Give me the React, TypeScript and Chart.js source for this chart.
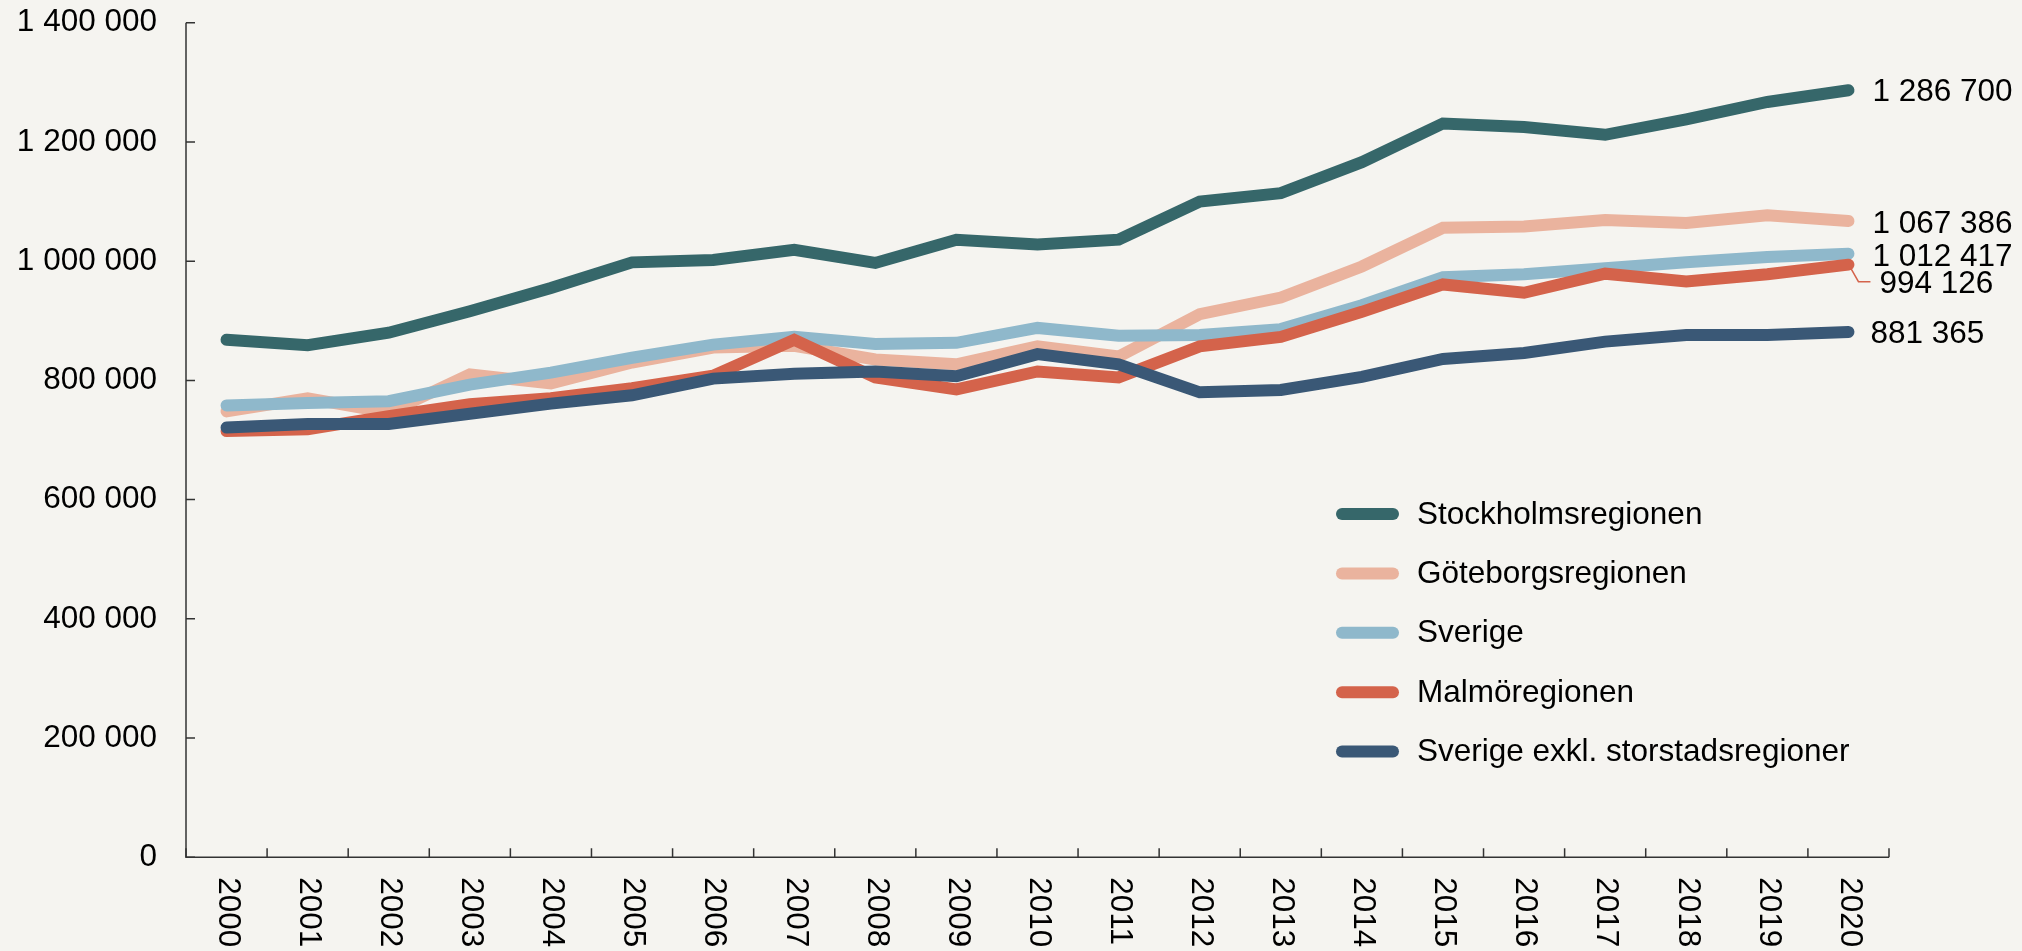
import { useEffect, useRef } from "react";
import { Chart, registerables } from "chart.js";

Chart.register(...registerables);

// ---- Data ----
const years = [
  "2000", "2001", "2002", "2003", "2004", "2005", "2006", "2007", "2008", "2009", "2010",
  "2011", "2012", "2013", "2014", "2015", "2016", "2017", "2018", "2019", "2020",
];

const stockholm = [
  868000, 859000, 880000, 916000, 955000, 998000, 1002000, 1019000, 997000, 1036000, 1028000,
  1036000, 1100000, 1114000, 1166000, 1231000, 1225000, 1212000, 1238000, 1267000, 1286700,
];
const goteborg = [
  748000, 770000, 746000, 810000, 795000, 830000, 855000, 858000, 835000, 827000, 857000,
  840000, 911000, 939000, 991000, 1056000, 1058000, 1069000, 1064000, 1077000, 1067386,
];
const sverige = [
  758000, 762000, 765000, 793000, 813000, 838000, 860000, 873000, 861000, 863000, 888000,
  875000, 876000, 886000, 926000, 973000, 978000, 988000, 998000, 1007000, 1012417,
];
const malmo = [
  715000, 718000, 740000, 760000, 770000, 787000, 808000, 868000, 805000, 785000, 815000,
  805000, 857000, 873000, 915000, 961000, 947000, 979000, 966000, 978000, 994126,
];
const sverigeExkl = [
  721000, 727000, 727000, 744000, 761000, 775000, 803000, 811000, 815000, 807000, 844000,
  827000, 780000, 784000, 806000, 836000, 846000, 865000, 876000, 876000, 881365,
];

const seriesNames = [
  "Stockholmsregionen",
  "Göteborgsregionen",
  "Sverige",
  "Malmöregionen",
  "Sverige exkl. storstadsregioner",
];
const seriesValues = [stockholm, goteborg, sverige, malmo, sverigeExkl];
const seriesColors = ["#36676A", "#EAB39E", "#8FB8CB", "#D4634B", "#3A5876"];
const seriesOrder = [5, 4, 3, 2, 1];

const yTickValues = [0, 200000, 400000, 600000, 800000, 1000000, 1200000, 1400000];
const Y_MIN = 0;
const Y_MAX = 1400000;

// ---- Style ----
const W = 2022;
const H = 951;
const BG = "#F5F4F0";
const AXIS = "#333333";
const TEXT = "#000000";
const FONT_FAMILY = '"Liberation Sans", Arial, sans-serif';
const FONT_SIZE = 31.5;
const LINE_W = 12;

const endLabelStyle = [
  { dx: 24, dy: 1, leader: false },
  { dx: 24, dy: 2, leader: false },
  { dx: 24, dy: 3, leader: false },
  { dx: 31, dy: 19, leader: true },
  { dx: 22, dy: 1, leader: false },
];

function fmt(v: number): string {
  return Math.round(v)
    .toString()
    .replace(/\B(?=(\d{3})+(?!\d))/g, " ");
}

const customDraw = {
  id: "customDraw",
  beforeDraw(chart: any) {
    const ctx = chart.ctx;
    ctx.save();
    ctx.fillStyle = BG;
    ctx.fillRect(0, 0, chart.width, chart.height);
    ctx.restore();
  },
  beforeDatasetsDraw(chart: any) {
    const ctx = chart.ctx;
    const xs = chart.scales.x;
    const ys = chart.scales.y;
    const area = chart.chartArea;
    const top = ys.getPixelForValue(Y_MAX);
    const bottom = ys.getPixelForValue(Y_MIN);
    ctx.save();
    ctx.strokeStyle = AXIS;
    ctx.lineWidth = 1.5;
    ctx.beginPath();
    ctx.moveTo(area.left, top);
    ctx.lineTo(area.left, bottom);
    ctx.lineTo(area.right, bottom);
    ctx.stroke();
    // y ticks (inward)
    ctx.beginPath();
    for (const v of yTickValues) {
      const py = ys.getPixelForValue(v);
      ctx.moveTo(area.left, py);
      ctx.lineTo(area.left + 9, py);
    }
    // x ticks (between categories, inward)
    const n = years.length;
    const half = (xs.getPixelForValue(1) - xs.getPixelForValue(0)) / 2;
    for (let i = 0; i <= n; i++) {
      const px = i < n ? xs.getPixelForValue(i) - half : xs.getPixelForValue(n - 1) + half;
      ctx.moveTo(px, bottom);
      ctx.lineTo(px, bottom - 9);
    }
    ctx.stroke();

    // x labels rotated clockwise
    ctx.fillStyle = TEXT;
    ctx.font = `${FONT_SIZE}px ${FONT_FAMILY}`;
    ctx.textAlign = "left";
    ctx.textBaseline = "middle";
    for (let i = 0; i < n; i++) {
      const px = xs.getPixelForValue(i);
      ctx.save();
      ctx.translate(px + 1, bottom + 20);
      ctx.rotate(Math.PI / 2);
      ctx.fillText(years[i], 0, 0);
      ctx.restore();
    }
    ctx.restore();
  },
  afterDraw(chart: any) {
    const ctx = chart.ctx;
    ctx.save();
    ctx.font = `${FONT_SIZE}px ${FONT_FAMILY}`;
    ctx.textBaseline = "middle";
    ctx.textAlign = "left";

    // end labels
    chart.data.datasets.forEach((ds: any, i: number) => {
      const meta = chart.getDatasetMeta(i);
      const pt = meta.data[meta.data.length - 1];
      const st = endLabelStyle[i];
      const lx = pt.x + st.dx;
      const ly = pt.y + st.dy;
      if (st.leader) {
        ctx.strokeStyle = ds.borderColor;
        ctx.lineWidth = 1.5;
        ctx.beginPath();
        ctx.moveTo(pt.x + 2, pt.y + 3);
        ctx.lineTo(pt.x + 10, ly - 2);
        ctx.lineTo(lx - 9, ly - 2);
        ctx.stroke();
      }
      ctx.fillStyle = TEXT;
      ctx.fillText(fmt(ds.data[ds.data.length - 1]), lx, ly + 1);
    });

    // legend
    const legX = 1342;
    const legLen = 51;
    const legTextX = 1417;
    const legY0 = 514;
    const legStep = 59.4;
    chart.data.datasets.forEach((ds: any, i: number) => {
      const y = legY0 + i * legStep;
      ctx.strokeStyle = ds.borderColor;
      ctx.lineWidth = LINE_W;
      ctx.lineCap = "round";
      ctx.beginPath();
      ctx.moveTo(legX, y);
      ctx.lineTo(legX + legLen, y);
      ctx.stroke();
      ctx.fillStyle = TEXT;
      ctx.fillText(ds.label, legTextX, y + 1);
    });
    ctx.restore();
  },
};

export default function App() {
  const ref = useRef<HTMLCanvasElement>(null);

  useEffect(() => {
    document.body.style.margin = "0";
    document.body.style.background = BG;
    const canvas = ref.current;
    if (!canvas) return;
    const chart = new Chart(canvas, {
      type: "line",
      data: {
        labels: years,
        datasets: seriesNames.map((name, i) => ({
          label: name,
          data: seriesValues[i],
          borderColor: seriesColors[i],
          backgroundColor: seriesColors[i],
          borderWidth: LINE_W,
          borderCapStyle: "round",
          borderJoinStyle: "miter",
          pointRadius: 0,
          pointHoverRadius: 0,
          tension: 0,
          fill: false,
          order: seriesOrder[i],
        })),
      },
      options: {
        animation: false,
        responsive: false,
        devicePixelRatio: 1,
        layout: { padding: { left: 0, top: 22.7, right: 133, bottom: 0 } },
        plugins: {
          legend: { display: false },
          tooltip: { enabled: false },
        },
        scales: {
          x: {
            type: "category",
            offset: true,
            grid: { display: false, drawTicks: false },
            border: { display: false },
            ticks: { display: false },
            afterFit(scale: any) {
              scale.height = H - 857.3;
            },
          },
          y: {
            min: Y_MIN,
            max: Y_MAX,
            afterBuildTicks(scale: any) {
              scale.ticks = yTickValues.map((v) => ({ value: v }));
            },
            grid: { display: false, drawTicks: true, tickLength: 29 },
            border: { display: false },
            ticks: {
              padding: 0,
              color: TEXT,
              font: { family: FONT_FAMILY, size: FONT_SIZE },
              callback: (v: any) => fmt(Number(v)),
            },
            afterFit(scale: any) {
              scale.width = 186;
            },
          },
        },
      } as any,
      plugins: [customDraw],
    });
    return () => chart.destroy();
  }, []);

  return (
    <div style={{ width: W, height: H, background: BG }}>
      <canvas ref={ref} width={W} height={H} style={{ display: "block", width: W, height: H }} />
    </div>
  );
}
